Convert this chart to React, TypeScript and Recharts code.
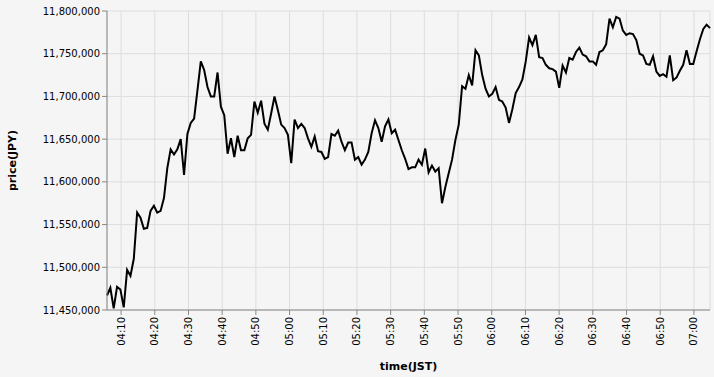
import React from "react";
import {
  CartesianGrid,
  Line,
  LineChart,
  XAxis,
  YAxis,
} from "recharts";

// price in thousands of JPY, one sample per minute from about 04:05:50 JST
const pricesK = [
  11467, 11476, 11452, 11477, 11474, 11453, 11497, 11490, 11510, 11564,
  11558, 11545, 11546, 11566, 11572, 11564, 11566, 11581, 11616, 11638,
  11632, 11638, 11650, 11608, 11656, 11669, 11674, 11707, 11741, 11731,
  11711, 11700, 11700, 11728, 11688, 11678, 11633, 11651, 11629, 11654,
  11637, 11637, 11651, 11655, 11694, 11681, 11695, 11668, 11661, 11680,
  11700, 11684, 11667, 11663, 11655, 11622, 11673, 11663, 11668, 11663,
  11651, 11641, 11653, 11636, 11635, 11627, 11629, 11656, 11654, 11660,
  11647, 11637, 11646, 11646, 11626, 11629, 11620, 11626, 11635, 11657,
  11672, 11663, 11647, 11665, 11673, 11657, 11661, 11649, 11637, 11627,
  11615, 11617, 11617, 11626, 11620, 11639, 11611, 11619, 11612, 11616,
  11575, 11594, 11610, 11626, 11649, 11667, 11712, 11709, 11725, 11713,
  11754, 11748, 11725, 11709, 11700, 11703, 11711, 11696, 11694, 11687,
  11669, 11685, 11704, 11711, 11720, 11741, 11769, 11760, 11772, 11746,
  11745, 11737, 11733, 11732, 11729, 11710, 11736, 11728, 11745, 11743,
  11752, 11757, 11749, 11747, 11741, 11741, 11737, 11752, 11754, 11761,
  11791, 11781, 11793, 11791, 11777, 11772, 11774, 11773, 11766, 11750,
  11748, 11738, 11737, 11747, 11729, 11724, 11726, 11723, 11748, 11719,
  11722, 11730, 11737, 11754, 11738, 11738, 11753, 11767, 11779, 11784,
  11780,
];

// minutes since midnight
const startMin = 245.82;
const stepMin = 0.9942;

const timeTicks = [
  250, 260, 270, 280, 290, 300, 310, 320, 330, 340, 350, 360, 370, 380, 390,
  400, 410, 420,
];
const priceTicks = [
  11450000, 11500000, 11550000, 11600000, 11650000, 11700000, 11750000,
  11800000,
];

const data = pricesK.map((p, i) => ({ t: startMin + i * stepMin, price: p * 1000 }));

const FONT = "DejaVu Sans";

const hhmm = (m: number) => {
  const h = Math.floor(m / 60);
  const mm = Math.round(m - h * 60);
  return `${String(h).padStart(2, "0")}:${String(mm).padStart(2, "0")}`;
};

const TimeTick = ({ x, y, payload }: any) => (
  <g transform={`translate(${x},${y})`}>
    <text
      transform="rotate(-90)"
      textAnchor="end"
      dy="0.35em"
      fontSize={10}
      fontFamily={FONT}
      fill="#000"
    >
      {hhmm(payload.value)}
    </text>
  </g>
);

export default function App() {
  return (
    <div
      style={{
        position: "absolute",
        left: 0,
        top: 0,
        width: 714,
        height: 377,
        background: "#f5f5f5",
      }}
    >
      <LineChart
        width={714}
        height={377}
        data={data}
        margin={{ top: 11, right: 4, bottom: 0, left: 0 }}
      >
        <CartesianGrid stroke="#ddd" strokeWidth={1} />
        <XAxis
          dataKey="t"
          type="number"
          domain={[startMin, startMin + (pricesK.length - 1) * stepMin]}
          ticks={timeTicks}
          height={67}
          stroke="#888"
          tickSize={5}
          tickMargin={2}
          tick={<TimeTick />}
          label={{
            value: "time(JST)",
            position: "insideBottom",
            offset: 7,
            fontSize: 11,
            fontWeight: "bold",
            fontFamily: FONT,
            fill: "#000",
          }}
        />
        <YAxis
          type="number"
          domain={[11450000, 11800000]}
          ticks={priceTicks}
          width={107}
          stroke="#888"
          tickSize={5}
          tickMargin={2}
          tick={{ fontSize: 10, fontFamily: FONT, fill: "#000" }}
          tickFormatter={(v: number) => v.toLocaleString("en-US")}
          label={{
            value: "price(JPY)",
            angle: -90,
            position: "insideLeft",
            offset: 12,
            textAnchor: "middle",
            fontSize: 11,
            fontWeight: "bold",
            fontFamily: FONT,
            fill: "#000",
          }}
        />
        <Line
          dataKey="price"
          type="linear"
          stroke="#000"
          strokeWidth={2}
          dot={false}
          isAnimationActive={false}
        />
      </LineChart>
    </div>
  );
}
